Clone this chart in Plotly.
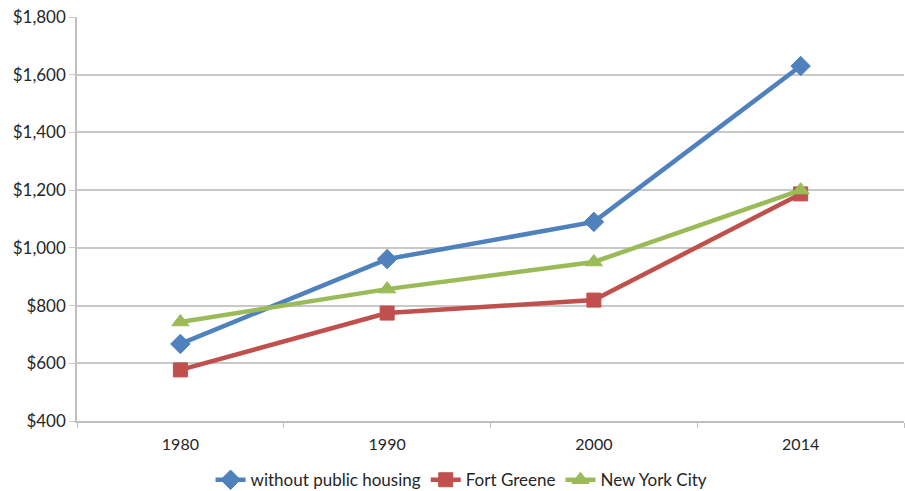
import plotly.graph_objects as go

years = ["1980", "1990", "2000", "2014"]
without_public_housing = [667, 961, 1090, 1630]
fort_greene = [577, 774, 819, 1187]
new_york_city = [743, 857, 951, 1200]
y_ticks = [400, 600, 800, 1000, 1200, 1400, 1600, 1800]
y_tick_labels = ["$400", "$600", "$800", "$1,000", "$1,200", "$1,400", "$1,600", "$1,800"]

series = [
    ("without public housing", without_public_housing, "#4F81BD", "diamond", 15),
    ("Fort Greene", fort_greene, "#C0504D", "square", 14),
    ("New York City", new_york_city, "#9BBB59", "triangle-up", 15),
]

fig = go.Figure()
for name, vals, color, sym, size in series:
    fig.add_trace(go.Scatter(
        x=years, y=vals, name=name, mode="lines+markers",
        line=dict(color=color, width=4.5),
        marker=dict(symbol=sym, size=size, color=color,
                    line=dict(color=color, width=1)),
    ))

fig.update_layout(
    width=905, height=491, autosize=False,
    margin=dict(l=77, r=1, t=17, b=70),
    paper_bgcolor="white", plot_bgcolor="white",
    font=dict(family="Lato, Open Sans, sans-serif", size=16, color="#262626"),
    showlegend=True,
    legend=dict(orientation="h", xref="container", yref="container",
                x=0.51, xanchor="center", y=0.022, yanchor="middle",
                font=dict(size=17), itemwidth=30, traceorder="normal"),
)
fig.update_xaxes(
    type="category", range=[-0.5, 3.5], tickson="boundaries",
    ticks="outside", ticklen=5, tickcolor="#BFBFBF",
    showline=True, linecolor="#BFBFBF", linewidth=1.5,
    showgrid=False, tickfont=dict(size=16), automargin=False,
    ticklabelstandoff=8,
)
fig.update_yaxes(
    range=[400, 1800], tickvals=y_ticks, ticktext=y_tick_labels,
    showgrid=True, gridcolor="#C8C8C8", gridwidth=1.5,
    ticks="outside", ticklen=6, tickcolor="#C8C8C8",
    showline=True, linecolor="#BFBFBF", linewidth=1.5,
    zeroline=False, tickfont=dict(size=17), automargin=False,
)

fig.write_html(
    "out.html",
    config={"responsive": False, "displayModeBar": False},
    post_script=(
        "document.body.style.margin='0';document.body.style.padding='0';"
        "document.body.style.overflow='hidden';"
    ),
)
